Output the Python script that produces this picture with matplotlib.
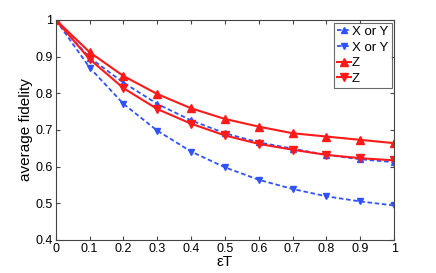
import matplotlib
matplotlib.use("Agg")
import matplotlib.pyplot as plt

plt.rcParams['font.family'] = ['Liberation Sans', 'DejaVu Sans']

eps_t = [0, 0.1, 0.2, 0.3, 0.4, 0.5, 0.6, 0.7, 0.8, 0.9, 1.0]
xy_up = [1.0, 0.897, 0.829, 0.771, 0.726, 0.691, 0.666, 0.649, 0.632, 0.620, 0.612]
xy_down = [1.0, 0.870, 0.771, 0.698, 0.641, 0.598, 0.564, 0.539, 0.519, 0.505, 0.494]
z_up = [1.0, 0.912, 0.847, 0.798, 0.759, 0.730, 0.709, 0.691, 0.682, 0.673, 0.664]
z_down = [1.0, 0.893, 0.814, 0.757, 0.717, 0.685, 0.662, 0.646, 0.632, 0.623, 0.617]
labels = ["X or Y", "X or Y", "Z", "Z"]

blue = '#2f52ff'
red = '#ff1a1a'

fig = plt.figure(figsize=(4.36, 2.73), dpi=100)
ax = fig.add_axes([0.128, 0.121, 0.776, 0.806])

ax.plot(eps_t, xy_up, linestyle=(0, (2.5, 1.5)), color=blue, lw=1.3, marker='^', ms=5, mfc=blue, mec=blue, label=labels[0])
ax.plot(eps_t, xy_down, linestyle=(0, (2.5, 1.5)), color=blue, lw=1.3, marker='v', ms=5, mfc=blue, mec=blue, label=labels[1])
ax.plot(eps_t, z_up, linestyle='-', color=red, lw=1.5, marker='^', ms=6, mfc=red, mec=red, label=labels[2])
ax.plot(eps_t, z_down, linestyle='-', color=red, lw=1.5, marker='v', ms=6, mfc=red, mec=red, label=labels[3])

ax.set_xlim(0, 1)
ax.set_ylim(0.4, 1.0)
ax.set_xticks(eps_t)
ax.set_xticklabels(['0', '0.1', '0.2', '0.3', '0.4', '0.5', '0.6', '0.7', '0.8', '0.9', '1'])
ax.set_yticks([0.4, 0.5, 0.6, 0.7, 0.8, 0.9, 1.0])
ax.set_yticklabels(['0.4', '0.5', '0.6', '0.7', '0.8', '0.9', '1'])
ax.tick_params(direction='in', top=True, right=True, labelsize=9, length=3, color='#444444', pad=2)
for s in ax.spines.values():
    s.set_color('#444444')
    s.set_linewidth(0.8)
ax.set_xlabel('εT', fontsize=11, labelpad=0)
ax.set_ylabel('average fidelity', fontsize=11, labelpad=2)

leg = ax.legend(loc='upper right', fontsize=9.5, frameon=True, fancybox=False, handlelength=1.0,
                handletextpad=0.1, borderpad=0.25, labelspacing=0.25, borderaxespad=0.2)
leg.get_frame().set_edgecolor('#444444')
leg.get_frame().set_linewidth(0.8)

fig.savefig('out.png', dpi=100)
